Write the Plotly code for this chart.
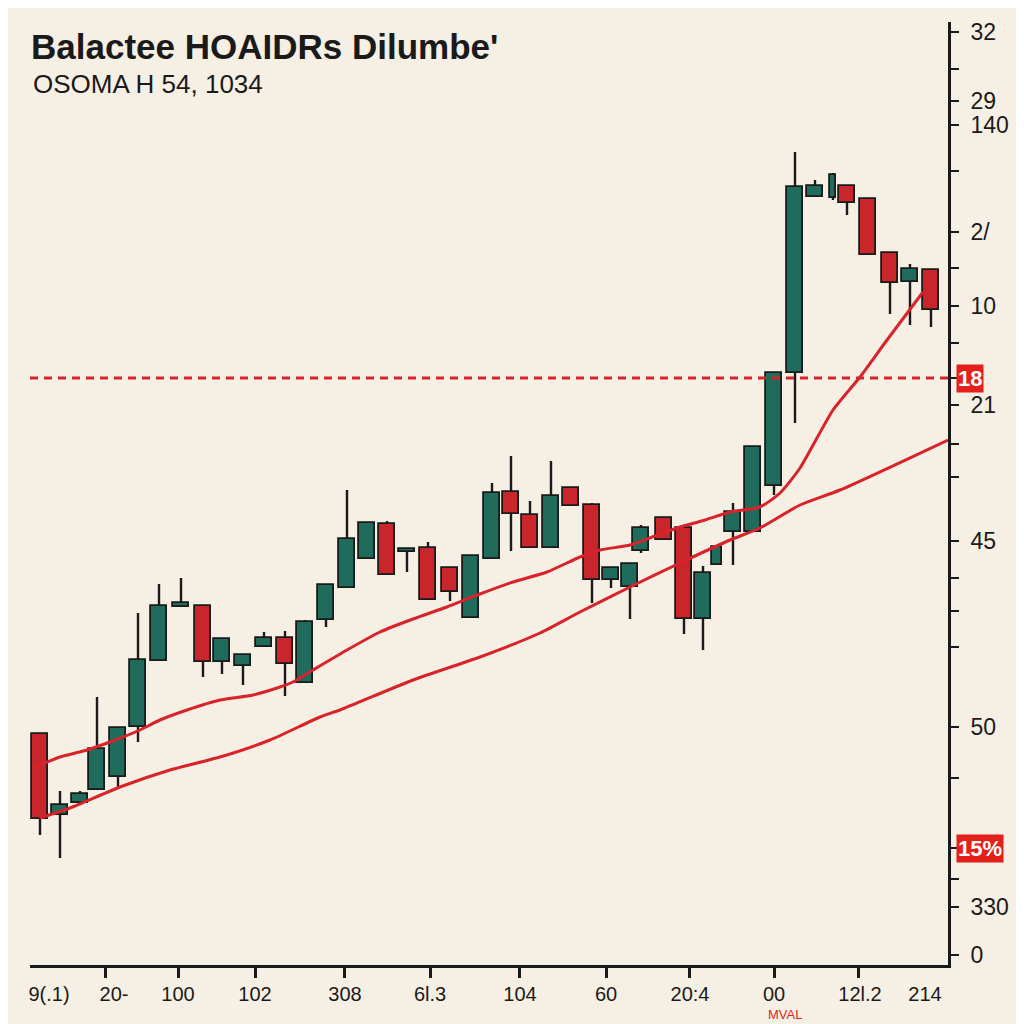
import plotly.graph_objects as go

# ---------------- data ----------------
day = [40, 60, 80, 97, 118, 138, 159, 181, 203, 222, 243, 264, 285, 305, 326, 347, 367, 387, 407, 428,
       450, 471, 492, 511, 530, 551, 571, 592, 611, 630, 641, 664, 684, 703, 717, 733, 753, 774, 795, 815,
       833, 847, 868, 890, 910, 931]
open_ = [229, 148, 160, 173, 186, 236, 302, 356, 357, 301, 297, 316, 325, 280, 343, 375, 404, 439, 411, 415,
         395, 345, 404, 471, 448, 415, 475, 458, 383, 376, 412, 445, 435, 344, 398, 431, 431, 477, 590, 766,
         765, 777, 764, 710, 681, 693]
high = [229, 172, 172, 266, 235, 350, 379, 385, 357, 324, 308, 331, 332, 343, 378, 473, 440, 442, 414, 421,
        395, 407, 480, 507, 462, 502, 475, 460, 395, 399, 438, 445, 435, 397, 416, 460, 516, 590, 811, 783,
        790, 777, 764, 710, 699, 693]
low = [128, 105, 160, 173, 176, 221, 302, 356, 286, 289, 278, 316, 267, 280, 336, 375, 404, 388, 391, 363,
       362, 345, 404, 412, 415, 415, 457, 360, 375, 344, 410, 423, 329, 313, 398, 398, 431, 468, 540, 766,
       763, 748, 708, 649, 638, 636]
close = [144, 158, 169, 214, 235, 303, 357, 360, 301, 324, 308, 325, 299, 341, 378, 424, 440, 388, 414, 363,
         371, 407, 470, 449, 415, 467, 457, 383, 395, 399, 435, 423, 344, 390, 416, 451, 516, 590, 776, 777,
         788, 760, 708, 680, 694, 653]

ma_fast_day = [33, 60, 87, 110, 140, 160, 187, 220, 253, 280, 293, 313, 347, 380, 413, 447, 480, 513, 547,
               580, 600, 630, 655, 680, 705, 730, 760, 780, 800, 833, 860, 887, 923]
ma_fast = [195, 206, 213, 221, 233, 243, 253, 263, 268, 276, 281, 293, 313, 331, 344, 356, 369, 381, 391,
           406, 413, 418, 427, 436, 443, 451, 456, 470, 495, 553, 586, 623, 671]
ma_slow_day = [40, 70, 120, 170, 220, 270, 320, 340, 413, 480, 540, 580, 630, 680, 730, 760, 800, 840, 948]
ma_slow = [145, 155, 176, 193, 206, 223, 246, 253, 283, 306, 330, 351, 376, 400, 423, 435, 458, 473, 523]

level_line = 585

y_tick_vals = [931, 862, 838, 731, 657, 558, 422, 236, 56, 8]
y_tick_text = ["32", "29", "140", "2/", "10", "21", "45", "50", "330", "0"]
y_minor_vals = [894, 792, 695, 620, 585, 519, 486, 385, 352, 316, 185, 115, 84]
red_labels = [(585, "18"), (115, "15%")]

x_tick_vals = [49, 114, 178, 255, 345, 430, 520, 606, 690, 774, 860, 925]
x_tick_text = ["9(.1)", "20-", "100", "102", "308", "6l.3", "104", "60", "20:4", "00", "12l.2", "214"]
x_minor_vals = [105, 178, 255, 344, 430, 519, 606, 689, 774, 858]

title = "Balactee HOAIDRs Dilumbe'"
subtitle = "OSOMA H 54, 1034"
footnote = "MVAL"

# ---------------- style ----------------
BG = "#f6efe3"
GREEN = "#1f6b5c"
RED = "#c9262b"
LINE_RED = "#d8232a"
INK = "#1a1a1a"
OFF = 8            # page body margin of the html wrapper
W = H = 1024 - OFF

widths = [16] * len(day)
widths[day.index(717)] = 10
widths[day.index(833)] = 6

fig = go.Figure()

# wicks (upper and lower segments, outside the body)
wx, wy = [], []
for d, o, h, l, c in zip(day, open_, high, low, close):
    top, bot = max(o, c), min(o, c)
    if h > top:
        wx += [d, d, None]
        wy += [top, h, None]
    if l < bot:
        wx += [d, d, None]
        wy += [l, bot, None]
fig.add_trace(go.Scatter(x=wx, y=wy, mode="lines", line=dict(color=INK, width=2.4),
                         hoverinfo="skip", showlegend=False))

colors = [GREEN if c >= o else RED for o, c in zip(open_, close)]
fig.add_trace(go.Bar(
    x=day, y=[c - o for o, c in zip(open_, close)], base=open_, width=widths,
    marker=dict(color=colors, line=dict(color=INK, width=1.8)),
    showlegend=False))

fig.add_trace(go.Scatter(x=ma_slow_day, y=ma_slow, mode="lines",
                         line=dict(color=LINE_RED, width=3, shape="spline", smoothing=0.6),
                         showlegend=False))
fig.add_trace(go.Scatter(x=ma_fast_day, y=ma_fast, mode="lines",
                         line=dict(color=LINE_RED, width=3, shape="spline", smoothing=0.6),
                         showlegend=False))

fig.add_shape(type="line", xref="paper", x0=0, x1=1, yref="y", y0=level_line, y1=level_line,
              line=dict(color=LINE_RED, width=3, dash="8px,6px"))

plot_w = 918
plot_h = 943
for val, txt in red_labels:
    fig.add_annotation(x=1 + 8 / plot_w, xref="paper", xanchor="left", y=val, yref="y", yanchor="middle",
                       text=f"<b>{txt}</b>", showarrow=False, bgcolor="#e3201b",
                       font=dict(color="white", size=22, family="Arial, Liberation Sans"),
                       borderpad=1)

fig.add_annotation(x=0.001, xref="paper", xanchor="left", y=(965 - 84) / plot_h, yref="paper",
                   yanchor="middle", text=subtitle, showarrow=False,
                   font=dict(size=26, color=INK, family="Arial, Liberation Sans"))
fig.add_annotation(x=(785 - 30) / plot_w, xref="paper", xanchor="center", y=-(1014 - 965) / plot_h,
                   yref="paper", yanchor="middle", text=footnote, showarrow=False,
                   font=dict(size=13, color="#d42a2a",
                             family="Liberation Sans Narrow, Arial Narrow, Arial"))

fig.update_layout(
    width=W, height=H,
    margin=dict(l=30 - OFF, r=1024 - 948, t=22 - OFF, b=1024 - 965),
    paper_bgcolor=BG, plot_bgcolor=BG,
    bargap=0,
    title=dict(text=f"<b>{title}</b>", x=(31 - OFF) / W, xanchor="left", xref="container",
               y=1 - (47 - OFF) / H, yanchor="middle", yref="container",
               font=dict(size=35, color=INK, family="Arial, Liberation Sans")),
    font=dict(family="Arial, Liberation Sans", color=INK),
)

fig.update_xaxes(
    range=[30, 948], showgrid=False, zeroline=False,
    showline=True, linecolor=INK, linewidth=2.8,
    tickmode="array", tickvals=x_tick_vals, ticktext=x_tick_text,
    ticks="outside", ticklen=0, tickwidth=0, ticklabelstandoff=9,
    tickfont=dict(size=20, color=INK, family="Liberation Sans Narrow, Arial Narrow, Arial"),
    minor=dict(tickmode="array", tickvals=x_minor_vals, ticks="outside", ticklen=10,
               tickwidth=2.5, tickcolor=INK, showgrid=False),
)
fig.update_yaxes(
    range=[-2, 941], side="right", showgrid=False, zeroline=False,
    showline=True, linecolor=INK, linewidth=2.8,
    tickmode="array", tickvals=y_tick_vals, ticktext=y_tick_text,
    ticks="outside", ticklen=8, tickwidth=2, tickcolor=INK, ticklabelstandoff=7,
    tickfont=dict(size=23, color=INK, family="Arial, Liberation Sans"),
    minor=dict(tickmode="array", tickvals=y_minor_vals, ticks="outside", ticklen=8,
               tickwidth=2, tickcolor=INK, showgrid=False),
)

fig.write_html("out.html")
